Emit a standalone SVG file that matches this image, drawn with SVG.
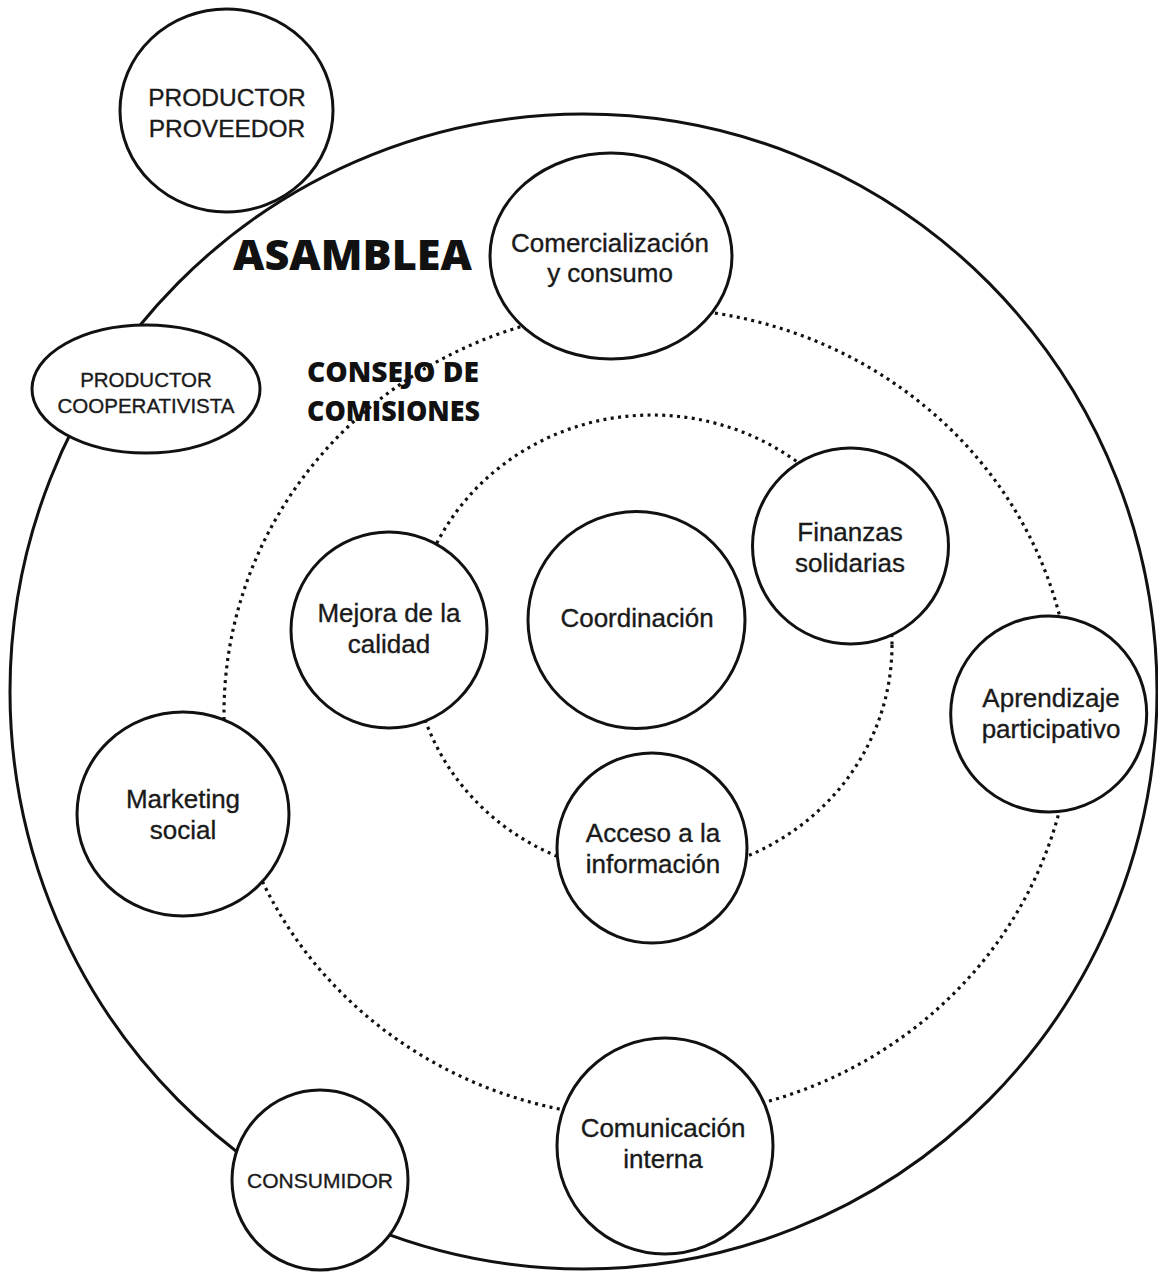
<svg xmlns="http://www.w3.org/2000/svg" width="1158" height="1273" viewBox="0 0 1158 1273">
<style>
.ring{fill:none;stroke:#111;stroke-width:3}
.dot{fill:none;stroke:#111;stroke-width:3.2;stroke-dasharray:3 4.4}
.node{fill:#fff;stroke:#111;stroke-width:3}
.t{font-family:"Liberation Sans",Arial,sans-serif;font-size:26px;fill:#1a1a1a;stroke:#1a1a1a;stroke-width:0.35;text-anchor:middle}
.cap{font-family:"Liberation Sans",Arial,sans-serif;fill:#1a1a1a;stroke:#1a1a1a;stroke-width:0.35;text-anchor:middle}
.title{font-family:"Open Sans","Noto Sans",sans-serif;font-weight:800;fill:#111}
</style>
<rect width="1158" height="1273" fill="#fff"/>
<g id="labels">
<text class="title" x="233" y="270" font-size="42" textLength="239" lengthAdjust="spacingAndGlyphs">ASAMBLEA</text>
<text class="title" x="307" y="382" font-size="28" textLength="172" lengthAdjust="spacingAndGlyphs">CONSEJO DE</text>
<text class="title" x="307" y="421" font-size="28" textLength="173" lengthAdjust="spacingAndGlyphs">COMISIONES</text>
</g>
<g id="rings">
<ellipse class="ring" cx="583.5" cy="691.5" rx="573.5" ry="577.5"/>
<ellipse class="dot" cx="648" cy="713" rx="424" ry="405"/>
<ellipse class="dot" cx="652" cy="645" rx="240" ry="230"/>
</g>
<g id="connectors"></g>
<g id="productor-proveedor">
<ellipse class="node" cx="226.5" cy="110.5" rx="106.5" ry="101.5"/>
<text class="cap" x="227" y="106" font-size="24.5">PRODUCTOR</text>
<text class="cap" x="227" y="137" font-size="24.5">PROVEEDOR</text>
</g>
<g id="productor-cooperativista">
<ellipse class="node" cx="146" cy="389" rx="114" ry="64"/>
<text class="cap" x="146" y="387" font-size="20.5">PRODUCTOR</text>
<text class="cap" x="146" y="413" font-size="20.5">COOPERATIVISTA</text>
</g>
<g id="comercializacion">
<ellipse class="node" cx="611" cy="256" rx="121" ry="103"/>
<text class="t" x="610" y="252">Comercialización</text>
<text class="t" x="610" y="282">y consumo</text>
</g>
<g id="finanzas">
<circle class="node" cx="850.5" cy="546" r="98"/>
<text class="t" x="850" y="541">Finanzas</text>
<text class="t" x="850" y="572">solidarias</text>
</g>
<g id="mejora">
<circle class="node" cx="389" cy="630" r="98"/>
<text class="t" x="389" y="622">Mejora de la</text>
<text class="t" x="389" y="653">calidad</text>
</g>
<g id="coordinacion">
<circle class="node" cx="636.5" cy="620" r="108.5"/>
<text class="t" x="637" y="627" font-size="25">Coordinación</text>
</g>
<g id="aprendizaje">
<circle class="node" cx="1048.7" cy="714" r="98"/>
<text class="t" x="1051" y="707">Aprendizaje</text>
<text class="t" x="1051" y="738">participativo</text>
</g>
<g id="marketing">
<ellipse class="node" cx="183" cy="814" rx="106" ry="102"/>
<text class="t" x="183" y="808">Marketing</text>
<text class="t" x="183" y="839">social</text>
</g>
<g id="acceso">
<circle class="node" cx="652" cy="848" r="95"/>
<text class="t" x="653" y="842">Acceso a la</text>
<text class="t" x="653" y="873">información</text>
</g>
<g id="comunicacion">
<circle class="node" cx="665" cy="1146" r="108"/>
<text class="t" x="663" y="1137">Comunicación</text>
<text class="t" x="663" y="1168">interna</text>
</g>
<g id="consumidor">
<ellipse class="node" cx="320" cy="1180" rx="88" ry="90"/>
<text class="cap" x="320" y="1188" font-size="21">CONSUMIDOR</text>
</g>
</svg>
